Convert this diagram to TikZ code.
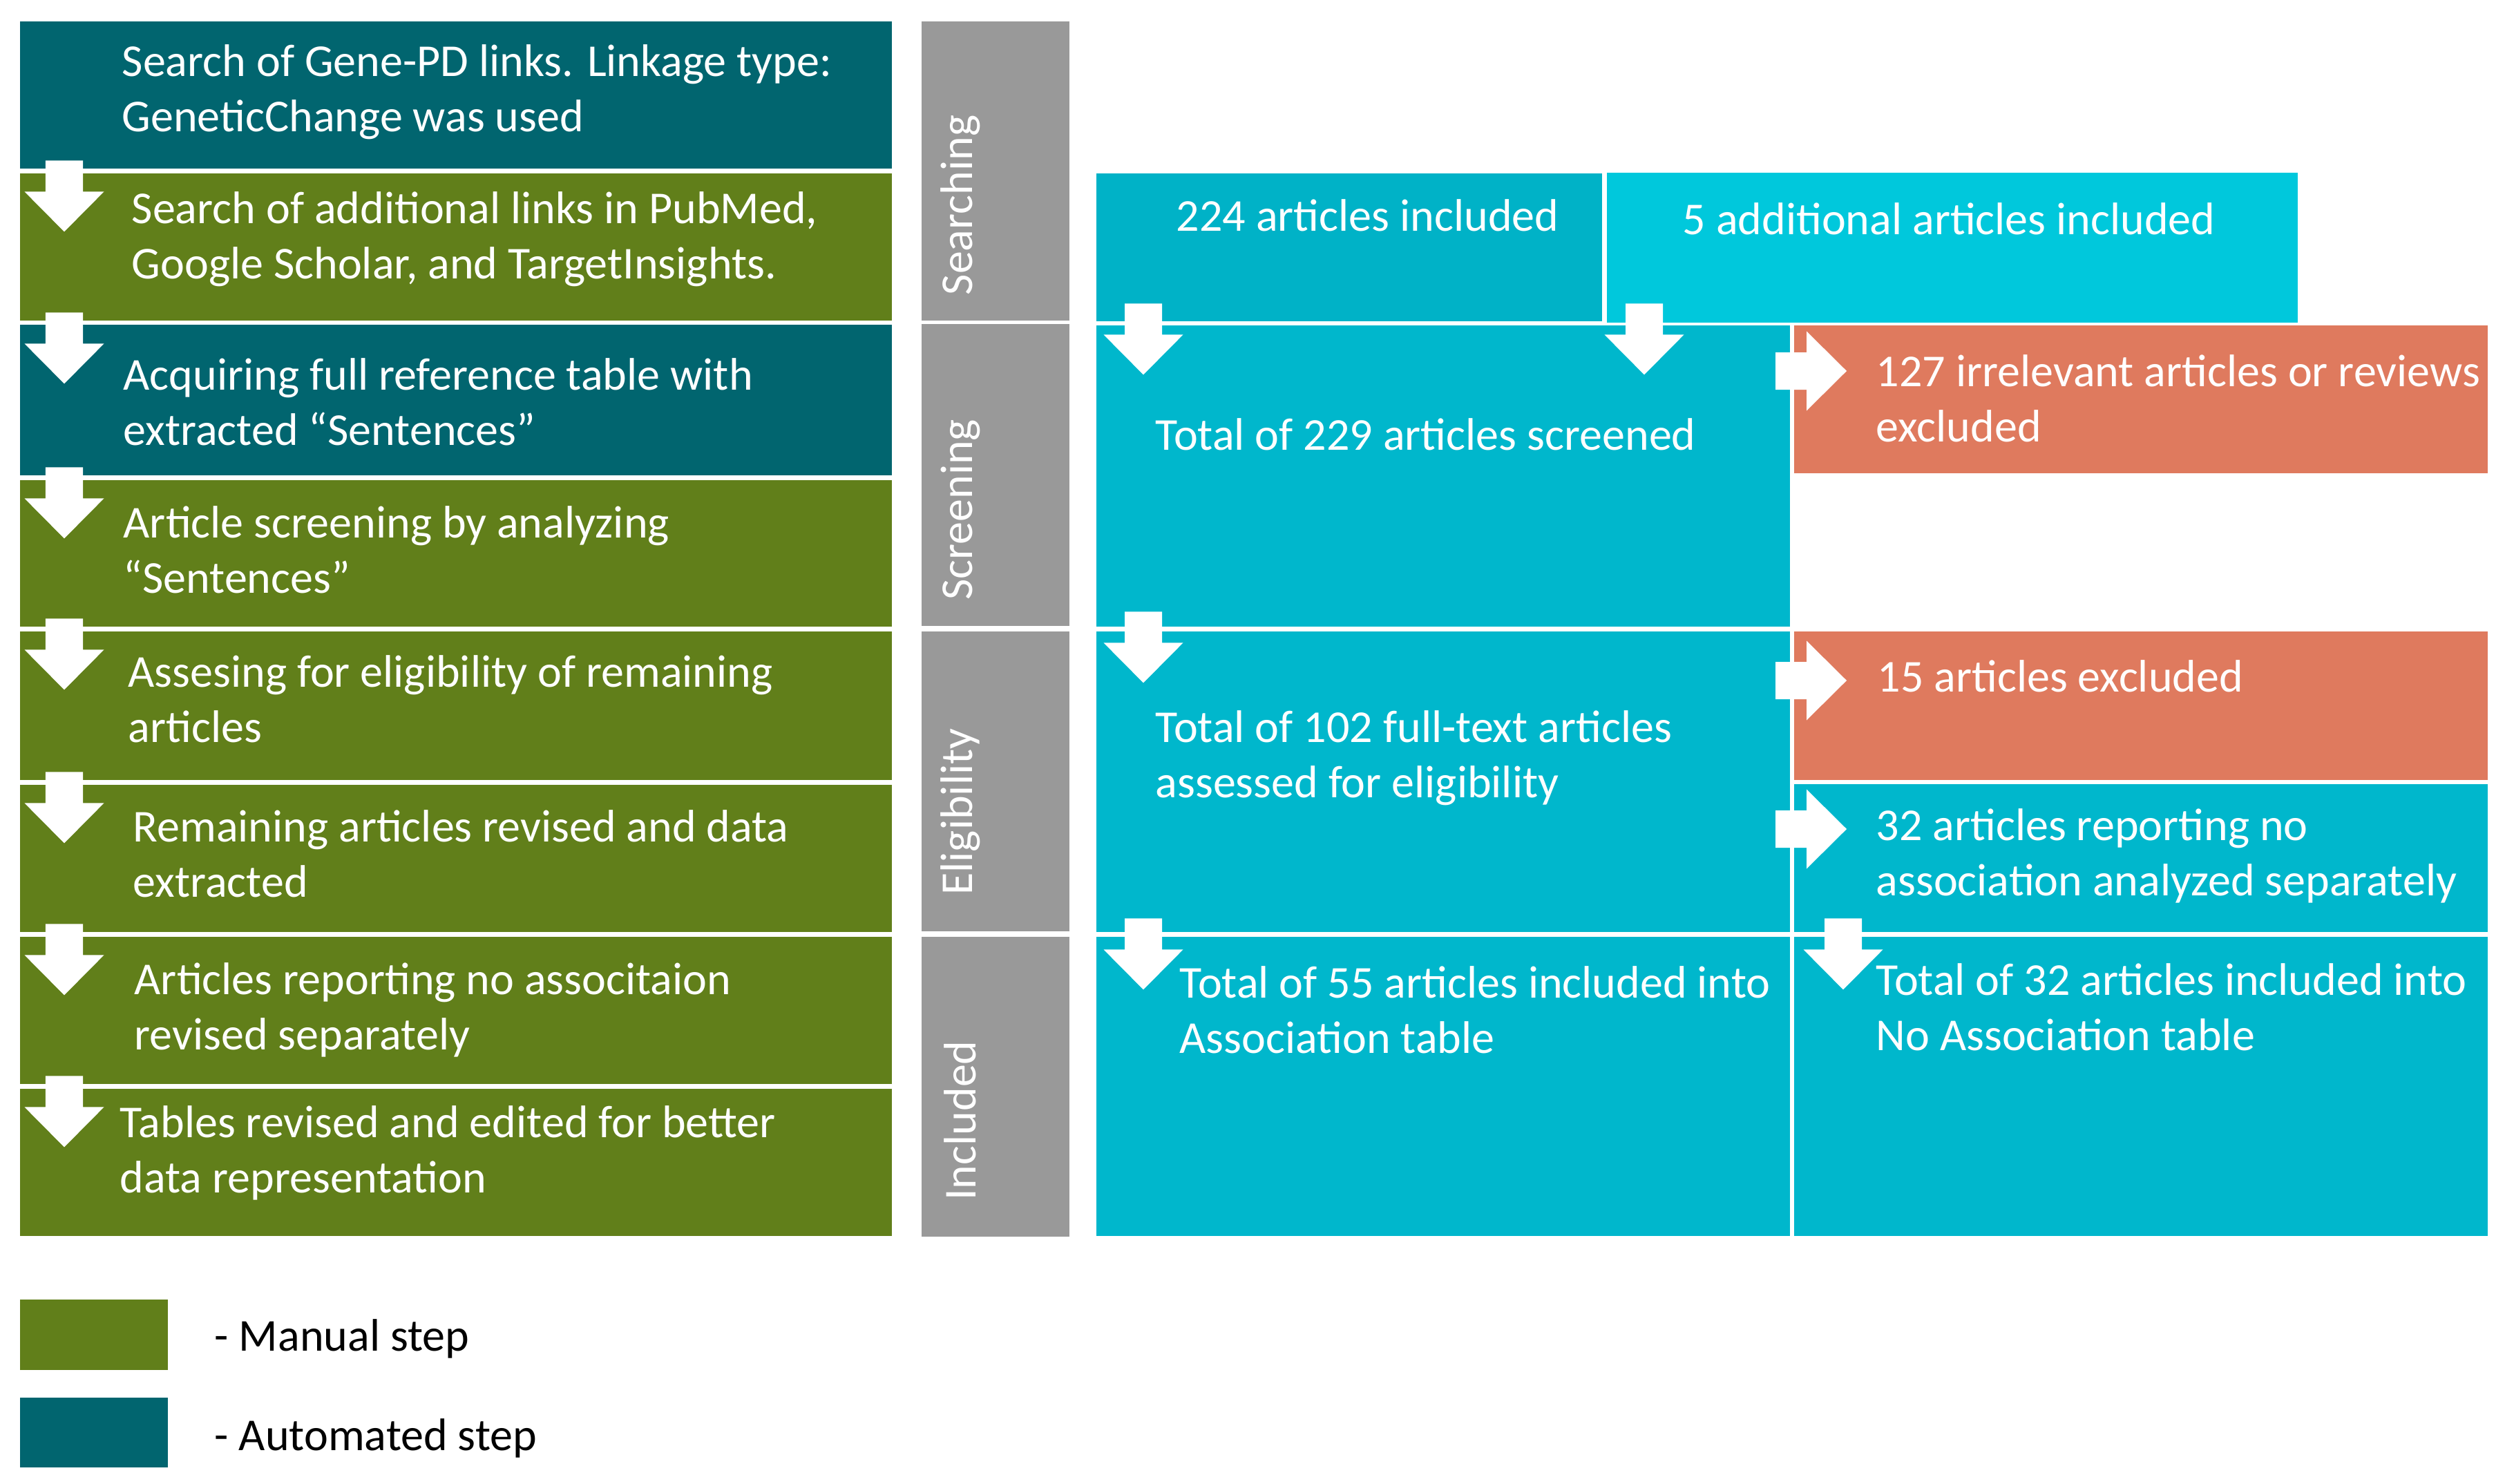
\documentclass[tikz,border=0pt]{standalone}
\usepackage{fontspec}
\setmainfont{Carlito}
\usepackage{tikz}
\usetikzlibrary{calc}
\definecolor{autoteal}{HTML}{01656F}
\definecolor{manualgreen}{HTML}{617F1A}
\definecolor{phasegray}{HTML}{999999}
\definecolor{countblue}{HTML}{00B7CC}
\definecolor{firstblue}{HTML}{00B2C7}
\definecolor{extrablue}{HTML}{00C8DC}
\definecolor{exclred}{HTML}{DF7A5E}
\tikzstyle{box} = [rectangle, anchor=north west, inner sep=0, minimum width=10.04cm]
\tikzstyle{automated} = [box, fill=autoteal, minimum width=12.62cm, minimum height=2.13cm]
\tikzstyle{manual} = [box, fill=manualgreen, minimum width=12.62cm, minimum height=2.13cm]
\tikzstyle{phase} = [box, fill=phasegray, minimum width=2.14cm, minimum height=4.34cm]
\tikzstyle{count} = [box, fill=countblue]
\tikzstyle{excl} = [box, fill=exclred, minimum height=2.14cm]
\tikzstyle{txt} = [anchor=west, align=left, inner sep=0, yshift=-0.05cm, text=white, font=\fontsize{18.8}{22.8}\selectfont]
\tikzstyle{vtxt} = [rotate=90, inner sep=0, text=white, font=\fontsize{18.8}{22.8}\selectfont]
\tikzset{downarr/.pic={\fill[white] (-0.27,0) -- (0.27,0) -- (0.27,-0.45) -- (0.575,-0.45) -- (0,-1.03) -- (-0.575,-0.45) -- (-0.27,-0.45) -- cycle;}}
\begin{document}
\begin{tikzpicture}
\useasboundingbox (0,0) rectangle (36.26,-21.48);
\node (s1) [automated] at (0.28,-0.30) {};
\node (s2) [manual] at (0.28,-2.50) {};
\node (s3) [automated, minimum height=2.18cm] at (0.28,-4.69) {};
\node (s4) [manual, minimum height=2.12cm] at (0.28,-6.94) {};
\node (s5) [manual, minimum height=2.15cm] at (0.28,-9.13) {};
\node (s6) [manual] at (0.28,-11.35) {};
\node (s7) [manual] at (0.28,-13.55) {};
\node (s8) [manual] at (0.28,-15.75) {};

\node (t1) [txt] at (1.76,-1.28) {Search of Gene-PD links. Linkage type:\\GeneticChange was used};
\node (t2) [txt] at (1.90,-3.41) {Search of additional links in PubMed,\\Google Scholar, and TargetInsights.};
\node (t3) [txt] at (1.78,-5.77) {Acquiring full reference table with\\extracted “Sentences”};
\node (t4) [txt] at (1.78,-7.91) {Article screening by analyzing\\“Sentences”};
\node (t5) [txt] at (1.85,-10.07) {Assesing for eligibility of remaining\\articles};
\node (t6) [txt] at (1.92,-12.31) {Remaining articles revised and data\\extracted};
\node (t7) [txt] at (1.94,-14.57) {Articles reporting no associtaion\\revised separately};
\node (t8) [txt] at (1.73,-16.64) {Tables revised and edited for better\\data representation};

\node (p1) [phase, minimum height=4.33cm] at (13.33,-0.30) {};
\node (p2) [phase, minimum height=4.37cm] at (13.33,-4.68) {};
\node (p3) [phase] at (13.33,-9.13) {};
\node (p4) [phase] at (13.33,-13.55) {};
\node (l1) [vtxt] at (13.90,-2.97) {Searching};
\node (l2) [vtxt] at (13.90,-7.38) {Screening};
\node (l3) [vtxt] at (13.90,-11.75) {Eligibility};
\node (l4) [vtxt] at (13.90,-16.22) {Included};

\node (a1) [count, fill=firstblue, minimum width=7.32cm, minimum height=2.14cm] at (15.86,-2.50) {};
\node (a2) [count, fill=extrablue, minimum width=10.00cm, minimum height=2.17cm] at (23.25,-2.49) {};
\node (sc) [count, minimum height=4.36cm] at (15.86,-4.70) {};
\node (ex1) [excl] at (25.96,-4.70) {};
\node (el) [count, minimum height=4.35cm] at (15.86,-9.13) {};
\node (ex2) [excl, minimum height=2.15cm] at (25.96,-9.13) {};
\node (nr) [count, minimum height=2.14cm] at (25.96,-11.34) {};
\node (in1) [count, minimum height=4.33cm] at (15.86,-13.55) {};
\node (in2) [count, minimum height=4.33cm] at (25.96,-13.55) {};

\node (ta1) [txt] at (17.02,-3.07) {224 articles included};
\node (ta2) [txt] at (24.35,-3.12) {5 additional articles included};
\node (tsc) [txt] at (16.72,-6.24) {Total of 229 articles screened};
\node (tex1) [txt] at (27.15,-5.72) {127 irrelevant articles or reviews\\excluded};
\node (tel) [txt] at (16.72,-10.92) {Total of 102 full-text articles\\assessed for eligibility};
\node (tex2) [txt] at (27.17,-9.74) {15 articles excluded};
\node (tnr) [txt] at (27.15,-12.34) {32 articles reporting no\\association analyzed separately};
\node (tin1) [txt] at (17.07,-14.57) {Total of 55 articles included into\\Association table};
\node (tin2) [txt] at (27.15,-14.53) {Total of 32 articles included into\\No Association table};

\pic at ($(s1.south west)+(0.65,0.12)$) {downarr};
\pic at ($(s2.south west)+(0.65,0.12)$) {downarr};
\pic at ($(s3.south west)+(0.65,0.12)$) {downarr};
\pic at ($(s4.south west)+(0.65,0.12)$) {downarr};
\pic at ($(s5.south west)+(0.65,0.12)$) {downarr};
\pic at ($(s6.south west)+(0.65,0.12)$) {downarr};
\pic at ($(s7.south west)+(0.65,0.12)$) {downarr};
\pic at ($(a1.south west)+(0.69,0.26)$) {downarr};
\pic at ($(a2.south west)+(0.55,0.28)$) {downarr};
\pic at ($(sc.south west)+(0.69,0.22)$) {downarr};
\pic at ($(el.south west)+(0.69,0.20)$) {downarr};
\pic at ($(nr.south west)+(0.72,0.20)$) {downarr};
\pic[rotate=90] at ($(ex1.north west)+(-0.26,-0.67)$) {downarr};
\pic[rotate=90] at ($(ex2.north west)+(-0.26,-0.72)$) {downarr};
\pic[rotate=90] at ($(nr.north west)+(-0.26,-0.66)$) {downarr};

\node (k1) [box, fill=manualgreen, minimum width=2.14cm, minimum height=1.02cm] at (0.28,-18.80) {};
\node (k2) [box, fill=autoteal, minimum width=2.14cm, minimum height=1.01cm] at (0.28,-20.22) {};
\node (tk1) [txt, text=black] at (3.10,-19.33) {- Manual step};
\node (tk2) [txt, text=black] at (3.10,-20.77) {- Automated step};
\end{tikzpicture}
\end{document}
